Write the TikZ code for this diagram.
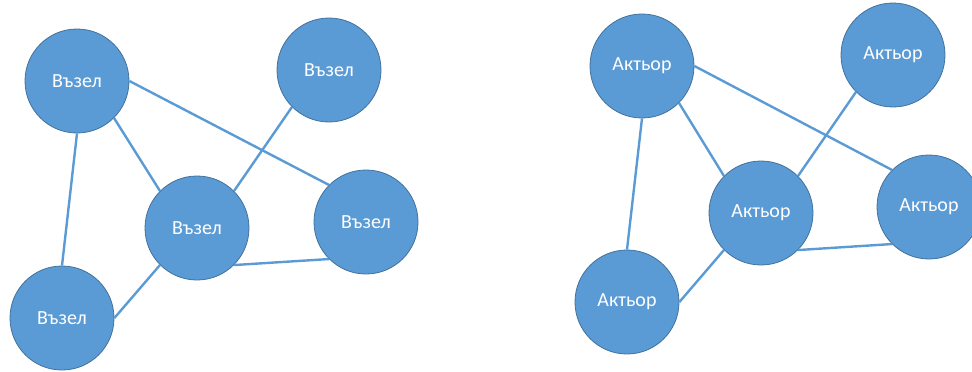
\documentclass[tikz,border=0pt]{standalone}
\usepackage{fontspec}
\setmainfont{Carlito}
\definecolor{netblue}{RGB}{91,155,213}
\definecolor{netrim}{RGB}{65,113,156}
\definecolor{netline}{RGB}{91,155,213}

\begin{document}
\begin{tikzpicture}[x=1pt,y=-1pt,
    vertex/.style={circle,fill=netblue,draw=netrim,line width=0.8pt,minimum size=104pt,inner sep=0pt,text=white,font=\fontsize{20}{24}\selectfont},
    link/.style={netline,line width=2.4pt}]
        \useasboundingbox (0,0) rectangle (972,372);
        % left network
        \node[vertex] (a) at (77,81) {Възел};
        \node[vertex] (b) at (329,70) {Възел};
        \node[vertex] (c) at (197,228) {Възел};
        \node[vertex] (d) at (366,222) {Възел};
        \node[vertex] (e) at (62,318) {Възел};
        % right network
        \node[vertex] (f) at (642,66) {Актьор};
        \node[vertex] (g) at (893,55) {Актьор};
        \node[vertex] (h) at (761,213) {Актьор};
        \node[vertex] (i) at (929,207) {Актьор};
        \node[vertex] (j) at (627,302) {Актьор};
        \foreach \p/\q in {a.south/e.north, a.south east/c.north west, a.east/d.north west,
            b.south west/c.north east, c.south east/d.south west, c.south west/e.east,
            f.south/j.north, f.south east/h.north west, f.east/i.north west,
            g.south west/h.north east, h.south east/i.south west, h.south west/j.east}
            \draw[link] (\p) -- (\q);
      \end{tikzpicture}
\end{document}
